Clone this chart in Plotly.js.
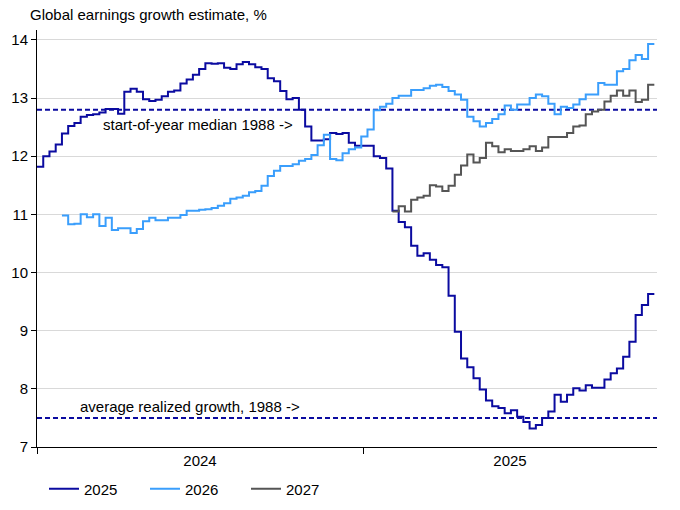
<!DOCTYPE html>
<html>
<head>
<meta charset="utf-8">
<script src="https://cdn.plot.ly/plotly-3.0.1.min.js"></script>
<style>
  html, body { margin: 0; padding: 0; background: #fff; }
  #plot { width: 680px; height: 510px; }
</style>
</head>
<body>
<div id="plot"></div>
<script>
// weekly consensus estimates
const start2025 = "2024-01-01";
const est2025 = [
  11.82, 12.00, 12.08, 12.20, 12.39, 12.52, 12.57, 12.68, 12.71, 12.72,
  12.75, 12.81, 12.81, 12.73, 13.11, 13.16, 13.11, 12.98, 12.95, 12.97,
  13.03, 13.11, 13.13, 13.25, 13.32, 13.40, 13.50, 13.60, 13.59, 13.60,
  13.52, 13.50, 13.58, 13.62, 13.58, 13.53, 13.50, 13.34, 13.29, 13.12,
  12.98, 13.00, 12.80, 12.51, 12.27, 12.27, 12.29, 12.40, 12.38, 12.40,
  12.23, 12.18, 12.18, 12.18, 12.00, 11.97, 11.79, 11.06, 10.87, 10.78,
  10.46, 10.29, 10.33, 10.22, 10.13, 10.09, 9.60, 8.98, 8.52, 8.37,
  8.18, 7.99, 7.80, 7.70, 7.67, 7.58, 7.63, 7.52, 7.43, 7.32,
  7.38, 7.50, 7.61, 7.90, 7.78, 7.90, 8.01, 7.97, 8.06, 8.02,
  8.02, 8.16, 8.27, 8.35, 8.55, 8.81, 9.27, 9.44, 9.63, 9.63
];

const start2026 = "2024-01-29";
const est2026 = [
  10.98, 10.83, 10.84, 11.00, 10.95, 11.00, 10.80, 10.94, 10.73, 10.76,
  10.76, 10.68, 10.75, 10.88, 10.94, 10.90, 10.90, 10.94, 10.94, 10.99,
  11.06, 11.06, 11.08, 11.09, 11.11, 11.15, 11.19, 11.27, 11.29, 11.32,
  11.38, 11.40, 11.49, 11.66, 11.75, 11.83, 11.83, 11.86, 11.92, 11.95,
  12.02, 12.19, 12.37, 11.95, 11.93, 12.05, 12.12, 12.15, 12.34, 12.46,
  12.79, 12.85, 12.90, 13.00, 13.04, 13.04, 13.14, 13.14, 13.17, 13.21,
  13.23, 13.19, 13.12, 13.06, 12.97, 12.68, 12.60, 12.51, 12.57, 12.64,
  12.72, 12.87, 12.80, 12.89, 12.89, 13.00, 13.06, 13.03, 12.90, 12.72,
  12.85, 12.83, 12.89, 12.98, 13.06, 13.06, 13.26, 13.23, 13.23, 13.46,
  13.50, 13.65, 13.74, 13.67, 13.93, 13.93
];

const start2027 = "2025-02-03";
const est2027 = [
  11.05, 11.14, 11.05, 11.25, 11.29, 11.32, 11.50, 11.48, 11.40, 11.49,
  11.68, 11.84, 12.03, 11.89, 11.97, 12.23, 12.17, 12.07, 12.12, 12.09,
  12.09, 12.12, 12.17, 12.09, 12.15, 12.33, 12.33, 12.33, 12.40, 12.51,
  12.53, 12.72, 12.77, 12.80, 12.94, 13.04, 13.13, 13.04, 13.13, 12.93,
  12.97, 13.23, 13.23
];

const seriesNames = ["2025", "2026", "2027"];
const medianStartOfYear = 12.8;
const avgRealized = 7.5;
const medianLabel = "start-of-year median 1988 ->";
const avgLabel = "average realized growth, 1988 ->";
const yearLabels = ["2024", "2025"];

const COLORS = {
  y2025: "#0b0ba0",
  y2026: "#3a9efc",
  y2027: "#555555",
  ref: "#0b0ba0"
};

const X_RANGE = ["2024-01-01", "2025-11-27"];
const FONT = "Liberation Sans, Arial, sans-serif";

function weekly(startIso, n) {
  const t0 = Date.parse(startIso + "T00:00:00Z");
  const out = [];
  for (let i = 0; i < n; i++) {
    out.push(new Date(t0 + i * 7 * 86400000).toISOString().slice(0, 10));
  }
  return out;
}

function midDate(a, b) {
  const ta = Date.parse(a + "T00:00:00Z");
  const tb = Date.parse(b + "T00:00:00Z");
  return new Date((ta + tb) / 2).toISOString().slice(0, 10);
}

// year labels sit in the middle of the visible part of each year
const labelPos = yearLabels.map(yr => {
  const y0 = yr + "-01-01";
  const y1 = (Number(yr) + 1) + "-01-01";
  const lo = y0 < X_RANGE[0] ? X_RANGE[0] : y0;
  const hi = y1 > X_RANGE[1] ? X_RANGE[1] : y1;
  return midDate(lo, hi);
});

function lineTrace(name, startIso, values, color) {
  return {
    x: weekly(startIso, values.length),
    y: values,
    name,
    type: "scatter",
    mode: "lines",
    line: { color, width: 2, shape: "hv" },
    hoverinfo: "skip"
  };
}

const traces = [
  lineTrace(seriesNames[0], start2025, est2025, COLORS.y2025),
  lineTrace(seriesNames[1], start2026, est2026, COLORS.y2026),
  lineTrace(seriesNames[2], start2027, est2027, COLORS.y2027)
];

function refLine(y) {
  return {
    type: "line",
    xref: "paper", x0: 0, x1: 1,
    yref: "y", y0: y, y1: y,
    line: { color: COLORS.ref, width: 2, dash: "5px,3px" },
    layer: "below"
  };
}

const layout = {
  width: 680,
  height: 510,
  margin: { l: 37, r: 23, t: 30, b: 63 },
  paper_bgcolor: "#fff",
  plot_bgcolor: "#fff",
  font: { family: FONT, size: 15, color: "#000" },
  showlegend: true,
  title: {
    text: "Global earnings growth estimate, %",
    font: { family: FONT, size: 15, color: "#000" },
    xref: "container", x: 30 / 680, xanchor: "left",
    yref: "container", y: 1 - 15 / 510, yanchor: "middle"
  },
  xaxis: {
    type: "date",
    range: X_RANGE,
    tickmode: "array",
    tickvals: labelPos,
    ticktext: yearLabels,
    ticks: "",
    minor: {
      tick0: "2024-01-01",
      dtick: "M12",
      ticks: "outside",
      ticklen: 6,
      tickcolor: "#000",
      tickwidth: 1,
      showgrid: false
    },
    showgrid: false,
    showline: true,
    linecolor: "#000",
    linewidth: 1,
    zeroline: false,
    tickfont: { family: FONT, size: 15, color: "#000" },
    fixedrange: true
  },
  yaxis: {
    range: [7, 14.17],
    tick0: 7,
    dtick: 1,
    ticks: "outside",
    ticklen: 5,
    tickcolor: "#000",
    showline: true,
    linecolor: "#000",
    linewidth: 1,
    showgrid: true,
    gridcolor: "#d9d9d9",
    gridwidth: 1,
    zeroline: false,
    tickfont: { family: FONT, size: 15, color: "#000" },
    fixedrange: true
  },
  shapes: [refLine(medianStartOfYear), refLine(avgRealized)],
  annotations: [
    {
      text: medianLabel,
      xref: "x", x: "2024-03-13",
      yref: "y", y: medianStartOfYear,
      xanchor: "left", yanchor: "top",
      yshift: -4,
      showarrow: false,
      font: { family: FONT, size: 15, color: "#000" }
    },
    {
      text: avgLabel,
      xref: "x", x: "2024-02-16",
      yref: "y", y: avgRealized,
      xanchor: "left", yanchor: "bottom",
      yshift: 1,
      showarrow: false,
      font: { family: FONT, size: 15, color: "#000" }
    }
  ],
  legend: {
    orientation: "h",
    xref: "container", x: 44 / 680, xanchor: "left",
    yref: "container", y: 1 - 489 / 510, yanchor: "middle",
    entrywidth: 56,
    entrywidthmode: "pixels",
    font: { family: FONT, size: 15, color: "#000" },
    bgcolor: "rgba(0,0,0,0)"
  }
};

Plotly.newPlot("plot", traces, layout, { staticPlot: true, displayModeBar: false });
</script>
</body>
</html>
